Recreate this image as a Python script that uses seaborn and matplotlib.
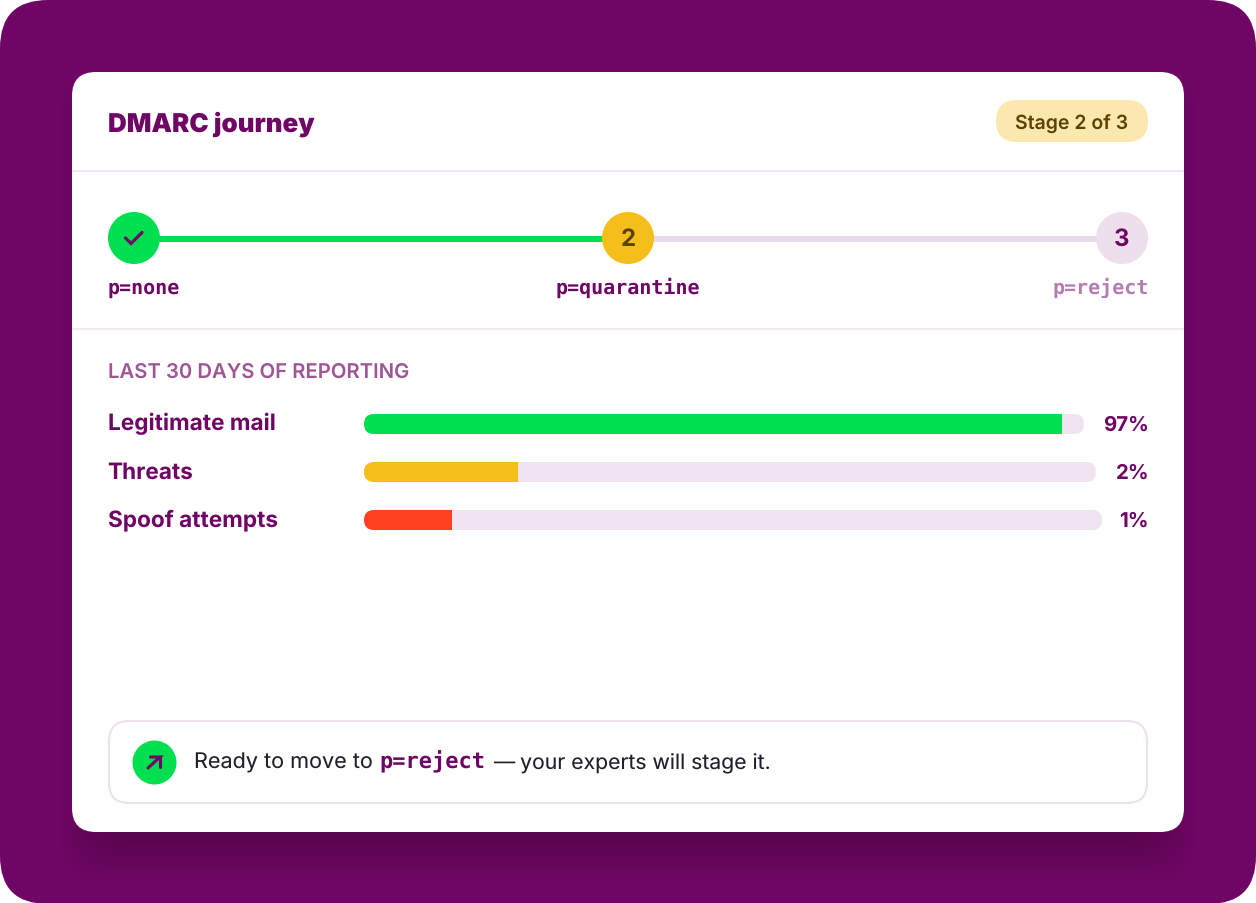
import matplotlib
matplotlib.use("Agg")
import matplotlib.pyplot as plt
import seaborn as sns
from matplotlib.patches import FancyBboxPatch

W, H = 1256, 904

# valores
stages = ["p=none", "p=quarantine", "p=reject"]
stage_index = [0, 1, 2]
stage_marks = ["", "2", "3"]
categories = ["Legitimate mail", "Threats", "Spoof attempts"]
fill_pct = [97, 21, 11.9]
value_labels = ["97%", "2%", "1%"]

PURPLE = "#6f0565"
GREEN = "#00df50"
YELLOW = "#f5be1b"
RED = "#ff4122"
TRACK = "#f0e4f0"
PALE = "#eedfed"
LINE = "#eadbea"
DIVIDER = "#f2e8f1"
BROWN = "#5b4300"
bar_colors = [GREEN, YELLOW, RED]
track_px = [720, 732, 738]
row_y = [424, 472, 520]

sns.set_theme(style="white")
plt.rcParams["font.family"] = ["Inter", "DejaVu Sans"]
plt.rcParams["text.hinting"] = "no_hinting"
plt.rcParams["text.hinting_factor"] = 1

fig = plt.figure(figsize=(W / 100, H / 100), dpi=100, facecolor="white")
bg = fig.add_axes([0, 0, 1, 1], zorder=0)
bg.set_xlim(0, W)
bg.set_ylim(H - 1, -1)
bg.axis("off")


def box(x0, y0, x1, y1, r, **kw):
    p = FancyBboxPatch((x0, y0), x1 - x0, y1 - y0, boxstyle=f"round,pad=0,rounding_size={r}",
                       mutation_aspect=1, transform=bg.transData, **kw)
    return p


def put(x, y, s, px, color=PURPLE, weight="bold", ha="left", family=None):
    # tamanho em pixels, y = linha de base
    kw = {"family": family} if family else {}
    return bg.text(x, y, s, fontsize=px * 0.72, color=color, fontweight=weight, ha=ha, va="baseline", **kw)


# fundo e sombra do cartao
outer = box(0, 0, W, H, 48, fc=PURPLE, ec="none")
bg.add_patch(outer)
for i in range(24):
    sh = box(72 - 12 + 2 * i, 96 - 24 + 2 * i, 1184 + 12 - 2 * i, 856 + 24 - 2 * i, 40, fc="#3a0a40", ec="none", alpha=0.009)
    bg.add_patch(sh)
    sh.set_clip_path(outer)
bg.add_patch(box(72, 72, 1184, 832, 24, fc="white", ec="none", zorder=3))

# cabecalho
bg.hlines([171, 329], 72, 1184, color=DIVIDER, lw=1.44, zorder=4)
t = put(108, 131, "DMARC journey", 25.9, weight="black")
t.set_zorder(5)
bg.add_patch(box(996, 100, 1148, 142, 21, fc="#fce7ae", ec="none", zorder=4))
put(1071.5, 129, "Stage 2 of 3", 19.5, color=BROWN, weight="semibold", ha="center").set_zorder(5)

# etapas
step = fig.add_axes([134 / W, 1 - 265 / H, 988 / W, 52 / H], zorder=2)
sns.lineplot(x=stage_index[:2], y=[1, 1], color=GREEN, lw=4.32, solid_capstyle="butt", ax=step, errorbar=None)
sns.lineplot(x=stage_index[1:], y=[1, 1], color=LINE, lw=4.32, solid_capstyle="butt", ax=step, errorbar=None)
sns.scatterplot(x=stage_index, y=[0, 0, 0], hue=stages, palette=[GREEN, YELLOW, PALE], s=1402,
                linewidth=0, legend=False, ax=step, clip_on=False, zorder=3)
step.set_xlim(0, 2)
step.set_ylim(26, -26)
step.axis("off")
for x, m, c in zip(stage_index, stage_marks, [PURPLE, BROWN, PURPLE]):
    step.text(x, 0.5, m, fontsize=24 * 0.72, color=c, fontweight="bold", ha="center", va="center", zorder=5)
# visto dentro do primeiro circulo (1 px = 1/494 no eixo x)
step.plot([-8.5 / 494, -3 / 494, 8 / 494], [0, 5.5, -5.5], color=PURPLE, lw=2.3, clip_on=False, zorder=5,
          solid_joinstyle="miter")

put(107.5, 293, stages[0], 20.2, family="DejaVu Sans Mono")
put(628, 293, stages[1], 20.1, ha="center", family="DejaVu Sans Mono")
put(1148.5, 293, stages[2], 20.1, color="#b57cb0", ha="right", family="DejaVu Sans Mono")

# barras
put(108, 377, "LAST 30 DAYS OF REPORTING", 20.3, color="#9e5695", weight="semibold")
for i, cat in enumerate(categories):
    put(107.5, row_y[i] + 5.4, cat, 22.6, weight="bold")
    put(1149, row_y[i] + 5.4, value_labels[i], 20.4, weight="bold", ha="right")
    ax = fig.add_axes([364 / W, 1 - (row_y[i] + 11) / H, track_px[i] / W, 20 / H], zorder=2)
    sns.barplot(x=[100], y=[cat], color=TRACK, width=1, saturation=1, ax=ax)
    sns.barplot(x=[fill_pct[i]], y=[cat], color=bar_colors[i], width=1, saturation=1, ax=ax)
    ax.set_xlim(0, 100)
    ax.axis("off")
    clip = box(364, row_y[i] - 10, 364 + track_px[i], row_y[i] + 10, 10)
    for b in ax.patches:
        b.set_linewidth(0)
        b.set_clip_path(clip)

# rodape
bg.add_patch(box(109, 721, 1147, 803, 20, fc="white", ec=PALE, lw=1.44, zorder=4))
bg.scatter([153.7], [762], s=(44 * 0.72) ** 2, color=GREEN, linewidths=0, zorder=5)
bg.plot([148, 160, 150.5], [768, 757, 757], color=PURPLE, lw=2.2, zorder=6, solid_joinstyle="miter")
bg.plot([160, 160], [757, 766.5], color=PURPLE, lw=2.2, zorder=6)
put(194, 768, "Ready to move to", 21.6, color="#241f2c", weight="normal").set_zorder(6)
put(379, 767.5, "p=reject", 22, family="DejaVu Sans Mono").set_zorder(6)
put(493, 768, "— your experts will stage it.", 21.2, color="#241f2c", weight="normal").set_zorder(6)

fig.savefig("out.png", dpi=100, facecolor="white")
